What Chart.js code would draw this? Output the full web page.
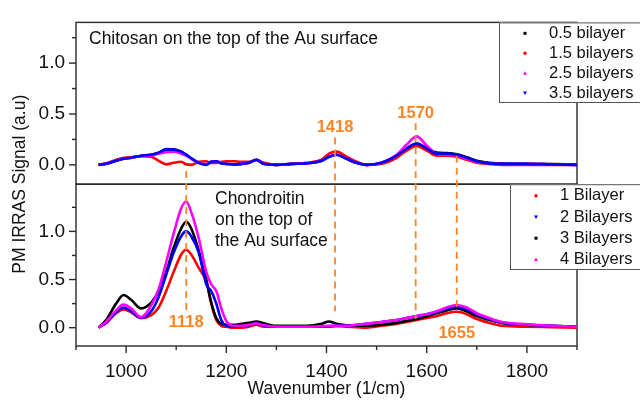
<!DOCTYPE html>
<html>
<head>
<meta charset="utf-8">
<script src="https://cdn.jsdelivr.net/npm/chart.js@4.4.1/dist/chart.umd.min.js"></script>
<style>
  html, body { margin: 0; padding: 0; background: #fff; }
  #wrap { width: 640px; height: 401px; position: relative; }
</style>
</head>
<body>
<div id="wrap"><canvas id="chart" width="640" height="401"></canvas></div>
<script>
// wavenumber grid (1/cm), shared by all spectra
const wavenumbers = [945, 960, 980, 995, 1010, 1030, 1050, 1065, 1080, 1095, 1110, 1120, 1130, 1145, 1160, 1170, 1180, 1190, 1200, 1215, 1230, 1245, 1260, 1275, 1300, 1330, 1360, 1390, 1405, 1420, 1440, 1460, 1480, 1510, 1540, 1560, 1580, 1600, 1620, 1640, 1660, 1680, 1700, 1725, 1750, 1800, 1850, 1900];

// top panel - chitosan on top
const chitLabels = ['0.5 bilayer', '1.5 bilayers', '2.5 bilayers', '3.5 bilayers'];
const chit05 = [0, 0.01, 0.04, 0.06, 0.07, 0.09, 0.10, 0.12, 0.15, 0.15, 0.13, 0.10, 0.065, 0.02, 0.005, 0.03, 0.035, 0.015, 0.01, 0.005, 0.01, 0.02, 0.05, 0.01, 0.0, 0.01, 0.015, 0.04, 0.08, 0.10, 0.06, 0.02, 0.0, 0.02, 0.09, 0.16, 0.21, 0.165, 0.12, 0.115, 0.105, 0.075, 0.04, 0.02, 0.012, 0.01, 0.008, 0.005];
const chit15 = [0, 0.015, 0.05, 0.07, 0.075, 0.085, 0.08, 0.04, 0.005, 0.02, 0.03, 0.005, 0.0, 0.03, 0.035, 0.02, 0.02, 0.03, 0.035, 0.035, 0.03, 0.03, 0.045, 0.02, 0.0, 0.01, 0.02, 0.05, 0.11, 0.13, 0.08, 0.03, 0.0, 0.01, 0.07, 0.14, 0.185, 0.14, 0.09, 0.09, 0.08, 0.05, 0.02, 0.01, 0.0, 0.0, 0.0, 0.0];
const chit25 = [0, 0.01, 0.04, 0.06, 0.07, 0.085, 0.09, 0.11, 0.125, 0.13, 0.11, 0.09, 0.06, 0.02, 0.005, 0.03, 0.035, 0.015, 0.01, 0.005, 0.01, 0.02, 0.05, 0.01, 0.0, 0.01, 0.015, 0.04, 0.08, 0.10, 0.06, 0.02, 0.0, 0.02, 0.10, 0.20, 0.28, 0.19, 0.11, 0.10, 0.09, 0.06, 0.03, 0.015, 0.01, 0.01, 0.005, 0.0];
const chit35 = [0, 0.01, 0.04, 0.06, 0.07, 0.09, 0.10, 0.12, 0.155, 0.15, 0.13, 0.10, 0.065, 0.02, 0.0, 0.03, 0.035, 0.015, 0.01, 0.005, 0.01, 0.02, 0.05, 0.01, 0.0, 0.01, 0.015, 0.04, 0.08, 0.10, 0.06, 0.02, 0.0, 0.02, 0.09, 0.16, 0.21, 0.16, 0.11, 0.11, 0.10, 0.07, 0.035, 0.015, 0.01, 0.01, 0.005, 0.0];

// bottom panel - chondroitin on top
const chonLabels = ['1 Bilayer', '2 Bilayers', '3 Bilayers', '4 Bilayers'];
const chon1 = [0, 0.05, 0.15, 0.19, 0.16, 0.10, 0.13, 0.21, 0.38, 0.58, 0.76, 0.81, 0.76, 0.62, 0.48, 0.25, 0.08, 0.02, 0.01, 0.0, 0.0, 0.01, 0.03, 0.01, 0.01, 0.01, 0.01, 0.01, 0.01, 0.015, 0.01, 0.005, 0.0, 0.02, 0.04, 0.06, 0.08, 0.10, 0.12, 0.15, 0.165, 0.14, 0.09, 0.05, 0.02, 0.01, 0.005, 0.0];
const chon2 = [0, 0.05, 0.16, 0.21, 0.17, 0.10, 0.17, 0.32, 0.55, 0.78, 0.95, 1.0, 0.95, 0.78, 0.45, 0.38, 0.25, 0.08, 0.02, 0.01, 0.01, 0.025, 0.04, 0.02, 0.01, 0.01, 0.01, 0.01, 0.015, 0.02, 0.02, 0.03, 0.04, 0.06, 0.08, 0.10, 0.12, 0.14, 0.16, 0.20, 0.215, 0.19, 0.14, 0.09, 0.055, 0.03, 0.02, 0.01];
const chon3 = [0, 0.08, 0.25, 0.34, 0.29, 0.20, 0.26, 0.38, 0.58, 0.83, 1.03, 1.10, 1.03, 0.80, 0.50, 0.26, 0.10, 0.04, 0.03, 0.03, 0.04, 0.05, 0.065, 0.045, 0.02, 0.02, 0.02, 0.04, 0.065, 0.04, 0.025, 0.02, 0.02, 0.03, 0.05, 0.07, 0.09, 0.12, 0.15, 0.18, 0.20, 0.17, 0.12, 0.08, 0.05, 0.03, 0.02, 0.01];
const chon4 = [0, 0.06, 0.18, 0.24, 0.20, 0.11, 0.23, 0.40, 0.68, 0.98, 1.24, 1.31, 1.20, 0.93, 0.58, 0.45, 0.38, 0.20, 0.07, 0.02, 0.02, 0.03, 0.045, 0.025, 0.01, 0.01, 0.01, 0.015, 0.02, 0.02, 0.02, 0.03, 0.04, 0.06, 0.08, 0.10, 0.12, 0.14, 0.17, 0.21, 0.235, 0.21, 0.15, 0.10, 0.06, 0.035, 0.02, 0.01];

// tick values
const xTickVals = [900, 1000, 1100, 1200, 1300, 1400, 1500, 1600, 1700, 1800, 1900];
const xLabelVals = [1000, 1200, 1400, 1600, 1800];
const yTickVals = [0, 0.25, 0.5, 0.75, 1.0, 1.25];
const yLabelVals = [0, 0.5, 1.0];

// marked peaks
const peakLabels = ['1118', '1418', '1570', '1655'];
const peakPos = [1120, 1417, 1578, 1660];

const ORANGE = '#ff8424';
const FONT = "'Liberation Sans', Arial, sans-serif";
Chart.defaults.font.family = FONT;

// where each dashed line starts (top panel value) / ends (bottom panel value), and its label
const peakMarks = [
  { from: -0.06, to: 0.17, label: { axis: 'yBot', y: 0.05 } },
  { from: 0.27, to: 0.17, label: { axis: 'yTop', y: 0.37 } },
  { from: 0.41, to: 0.09, label: { axis: 'yTop', y: 0.505 } },
  { from: 0.09, to: 0.21, label: { axis: 'yBot', y: -0.055 } }
];

function pts(vals) {
  return vals.map((v, i) => ({ x: wavenumbers[i], y: v }));
}

function spectrum(label, vals, color, axis, shape) {
  return {
    label: label,
    data: pts(vals),
    yAxisID: axis,
    borderColor: color,
    backgroundColor: color,
    borderWidth: 2.6,
    pointRadius: 0,
    pointStyle: shape,
    cubicInterpolationMode: 'monotone',
    fill: false
  };
}

// first dataset ends up drawn on top
const datasets = [
  spectrum(chitLabels[3], chit35, '#0000ff', 'yTop', 'triangle'),
  spectrum(chitLabels[2], chit25, '#ff00ff', 'yTop', 'triangle'),
  spectrum(chitLabels[1], chit15, '#ff0000', 'yTop', 'circle'),
  spectrum(chitLabels[0], chit05, '#000000', 'yTop', 'rect'),
  spectrum(chonLabels[3], chon4, '#ff00ff', 'yBot', 'triangle'),
  spectrum(chonLabels[1], chon2, '#0000ff', 'yBot', 'triangle'),
  spectrum(chonLabels[2], chon3, '#000000', 'yBot', 'rect'),
  spectrum(chonLabels[0], chon1, '#ff0000', 'yBot', 'circle')
];

const topLegend = { labels: chitLabels, colors: ['#000000', '#ff0000', '#ff00ff', '#0000ff'], shapes: ['rect', 'circle', 'tri', 'triDown'] };
const botLegend = { labels: chonLabels, colors: ['#ff0000', '#0000ff', '#000000', '#ff00ff'], shapes: ['circle', 'triDown', 'rect', 'tri'] };

function marker(ctx, shape, x, y, color) {
  ctx.fillStyle = color;
  ctx.beginPath();
  if (shape === 'rect') ctx.rect(x - 1.5, y - 1.5, 3, 3);
  else if (shape === 'circle') ctx.arc(x, y, 1.7, 0, Math.PI * 2);
  else if (shape === 'tri') { ctx.moveTo(x, y - 2); ctx.lineTo(x + 2, y + 1.5); ctx.lineTo(x - 2, y + 1.5); }
  else { ctx.moveTo(x, y + 2); ctx.lineTo(x + 2, y - 1.5); ctx.lineTo(x - 2, y - 1.5); }
  ctx.fill();
}

function drawLegend(ctx, lg, left, top, bottom, markX, textX) {
  ctx.save();
  ctx.fillStyle = '#fff';
  ctx.fillRect(left, top, 200, bottom - top);
  ctx.strokeStyle = '#555';
  ctx.lineWidth = 1;
  ctx.strokeRect(left + 0.5, top + 0.5, 200, bottom - top);
  const rowH = (bottom - top) / lg.labels.length;
  ctx.font = '16.5px ' + FONT;
  ctx.textBaseline = 'middle';
  ctx.textAlign = 'left';
  lg.labels.forEach((t, i) => {
    const y = top + rowH * (i + 0.5) + 1;
    marker(ctx, lg.shapes[i], markX, y, lg.colors[i]);
    ctx.fillStyle = '#111';
    ctx.fillText(t, textX, y);
  });
  ctx.restore();
}

const panelPlugin = {
  id: 'panelPlugin',
  beforeDatasetsDraw(chart) {
    const ctx = chart.ctx;
    const x = chart.scales.x, yT = chart.scales.yTop, yB = chart.scales.yBot;
    const L = chart.chartArea.left, R = chart.chartArea.right;
    ctx.save();
    ctx.strokeStyle = '#2a2a2a';
    ctx.lineWidth = 1.4;
    // panel frames
    ctx.strokeRect(L, yT.top, R - L, yT.bottom - yT.top);
    ctx.strokeRect(L, yB.top, R - L, yB.bottom - yB.top);
    // y ticks, outward
    [yT, yB].forEach(s => {
      yTickVals.forEach(v => {
        const py = s.getPixelForValue(v);
        if (py < s.top || py > s.bottom) return;
        const len = yLabelVals.includes(v) ? 7 : 4;
        ctx.beginPath();
        ctx.moveTo(L, py);
        ctx.lineTo(L - len, py);
        ctx.stroke();
      });
    });
    // x ticks, outward
    xTickVals.forEach(v => {
      const px = x.getPixelForValue(v);
      const len = xLabelVals.includes(v) ? 7 : 4;
      ctx.beginPath();
      ctx.moveTo(px, yB.bottom);
      ctx.lineTo(px, yB.bottom + len);
      ctx.stroke();
    });
    ctx.restore();
  },
  afterDatasetsDraw(chart) {
    const ctx = chart.ctx;
    const x = chart.scales.x, yT = chart.scales.yTop, yB = chart.scales.yBot;
    const L = chart.chartArea.left;
    ctx.save();
    // dashed peak lines + labels
    ctx.strokeStyle = ORANGE;
    ctx.lineWidth = 1.8;
    ctx.setLineDash([7, 5]);
    peakMarks.forEach((m, i) => {
      const px = x.getPixelForValue(peakPos[i]);
      ctx.beginPath();
      ctx.moveTo(px, yT.getPixelForValue(m.from));
      ctx.lineTo(px, yB.getPixelForValue(m.to));
      ctx.stroke();
    });
    ctx.setLineDash([]);
    ctx.font = 'bold 16.5px ' + FONT;
    ctx.textAlign = 'center';
    ctx.textBaseline = 'middle';
    peakMarks.forEach((m, i) => {
      const s = chart.scales[m.label.axis];
      const px = x.getPixelForValue(peakPos[i]);
      ctx.fillStyle = '#fff';
      const ty = s.getPixelForValue(m.label.y);
      ctx.fillRect(px - 19, ty - 8, 38, 16);
      ctx.fillStyle = ORANGE;
      ctx.fillText(peakLabels[i], px, ty);
    });

    // panel captions
    ctx.fillStyle = '#111';
    ctx.font = '17.5px ' + FONT;
    ctx.textAlign = 'left';
    ctx.fillText('Chitosan on the top of the Au surface', L + 13, yT.top + 17);
    ['Chondroitin', 'on the top of', 'the Au surface'].forEach((t, i) => {
      ctx.fillText(t, L + 139, yB.top + 15 + i * 21);
    });

    // y title
    ctx.save();
    ctx.translate(20, (yT.top + yB.bottom) / 2);
    ctx.rotate(-Math.PI / 2);
    ctx.textAlign = 'center';
    ctx.fillText('PM IRRAS Signal (a.u)', 0, 0);
    ctx.restore();

    // legends
    drawLegend(ctx, topLegend, 499, yT.top, 102, 525, 549);
    drawLegend(ctx, botLegend, 510, yB.top, 269, 536, 560);
    ctx.restore();
  }
};

function yAxis(min, max) {
  return {
    type: 'linear',
    position: 'left',
    stack: 'panels',
    stackWeight: 1,
    min: min,
    max: max,
    grid: { display: false, drawTicks: false },
    border: { display: false },
    afterBuildTicks: s => { s.ticks = yTickVals.map(v => ({ value: v })); },
    afterFit: s => { s.width = 76; },
    ticks: {
      autoSkip: false,
      padding: 11,
      color: '#111',
      font: { size: 19 },
      callback: v => yLabelVals.includes(v) ? v.toFixed(1) : ''
    }
  };
}

new Chart(document.getElementById('chart'), {
  type: 'line',
  data: { datasets: datasets },
  options: {
    responsive: false,
    animation: false,
    layout: { padding: { top: 15, right: 63, left: 0, bottom: 0 } },
    plugins: { legend: { display: false }, tooltip: { enabled: false } },
    scales: {
      x: {
        type: 'linear',
        min: 900,
        max: 1900,
        grid: { display: false, drawTicks: false },
        border: { display: false },
        afterBuildTicks: s => { s.ticks = xTickVals.map(v => ({ value: v })); },
        afterFit: s => { s.height = 55; },
        ticks: {
          autoSkip: false,
          maxRotation: 0,
          padding: 14,
          color: '#111',
          font: { size: 19 },
          callback: v => xLabelVals.includes(v) ? String(v) : ''
        },
        title: {
          display: true,
          text: 'Wavenumber (1/cm)',
          color: '#111',
          font: { size: 17.5 },
          padding: { top: 2, bottom: 1 }
        }
      },
      // the stack is laid out bottom-first, so the lower panel is listed first
      yBot: yAxis(-0.19, 1.49),
      yTop: yAxis(-0.19, 1.40)
    }
  },
  plugins: [panelPlugin]
});
</script>
</body>
</html>
